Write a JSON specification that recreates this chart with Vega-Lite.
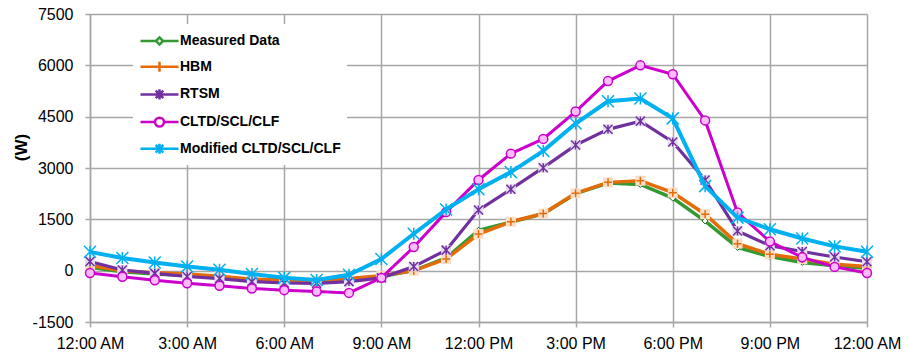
{
  "$schema": "https://vega.github.io/schema/vega-lite/v6.json",
  "width": 777,
  "height": 308,
  "autosize": "none",
  "padding": {"left": 90, "top": 14, "right": 42, "bottom": 34},
  "background": "white",
  "config": {
    "font": "Liberation Sans",
    "view": {"stroke": null},
    "axis": {
      "gridColor": "#A6A6A6",
      "gridWidth": 1.5,
      "gridOpacity": 1,
      "domainColor": "#A6A6A6",
      "domainWidth": 1.5,
      "tickColor": "#A6A6A6",
      "tickWidth": 1.5,
      "tickSize": 5,
      "labelColor": "black",
      "labelFontSize": 16,
      "labelFont": "Liberation Sans"
    }
  },
  "datasets": {
    "load": [
      {"hour": 0, "series": "Measured Data", "value": 100},
      {"hour": 1, "series": "Measured Data", "value": -30},
      {"hour": 2, "series": "Measured Data", "value": -100},
      {"hour": 3, "series": "Measured Data", "value": -140},
      {"hour": 4, "series": "Measured Data", "value": -190},
      {"hour": 5, "series": "Measured Data", "value": -260},
      {"hour": 6, "series": "Measured Data", "value": -300},
      {"hour": 7, "series": "Measured Data", "value": -340},
      {"hour": 8, "series": "Measured Data", "value": -260},
      {"hour": 9, "series": "Measured Data", "value": -170},
      {"hour": 10, "series": "Measured Data", "value": 0},
      {"hour": 11, "series": "Measured Data", "value": 370},
      {"hour": 12, "series": "Measured Data", "value": 1180},
      {"hour": 13, "series": "Measured Data", "value": 1420},
      {"hour": 14, "series": "Measured Data", "value": 1660},
      {"hour": 15, "series": "Measured Data", "value": 2250},
      {"hour": 16, "series": "Measured Data", "value": 2560},
      {"hour": 17, "series": "Measured Data", "value": 2520},
      {"hour": 18, "series": "Measured Data", "value": 2120},
      {"hour": 19, "series": "Measured Data", "value": 1450},
      {"hour": 20, "series": "Measured Data", "value": 680},
      {"hour": 21, "series": "Measured Data", "value": 410},
      {"hour": 22, "series": "Measured Data", "value": 240},
      {"hour": 23, "series": "Measured Data", "value": 140},
      {"hour": 24, "series": "Measured Data", "value": 70},
      {"hour": 0, "series": "HBM", "value": 150},
      {"hour": 1, "series": "HBM", "value": 0},
      {"hour": 2, "series": "HBM", "value": -60},
      {"hour": 3, "series": "HBM", "value": -100},
      {"hour": 4, "series": "HBM", "value": -160},
      {"hour": 5, "series": "HBM", "value": -250},
      {"hour": 6, "series": "HBM", "value": -270},
      {"hour": 7, "series": "HBM", "value": -300},
      {"hour": 8, "series": "HBM", "value": -230},
      {"hour": 9, "series": "HBM", "value": -150},
      {"hour": 10, "series": "HBM", "value": 0},
      {"hour": 11, "series": "HBM", "value": 340},
      {"hour": 12, "series": "HBM", "value": 1070},
      {"hour": 13, "series": "HBM", "value": 1430},
      {"hour": 14, "series": "HBM", "value": 1670},
      {"hour": 15, "series": "HBM", "value": 2260},
      {"hour": 16, "series": "HBM", "value": 2580},
      {"hour": 17, "series": "HBM", "value": 2630},
      {"hour": 18, "series": "HBM", "value": 2280},
      {"hour": 19, "series": "HBM", "value": 1650},
      {"hour": 20, "series": "HBM", "value": 790},
      {"hour": 21, "series": "HBM", "value": 480},
      {"hour": 22, "series": "HBM", "value": 340},
      {"hour": 23, "series": "HBM", "value": 190},
      {"hour": 24, "series": "HBM", "value": 120},
      {"hour": 0, "series": "RTSM", "value": 270},
      {"hour": 1, "series": "RTSM", "value": 20},
      {"hour": 2, "series": "RTSM", "value": -80},
      {"hour": 3, "series": "RTSM", "value": -170},
      {"hour": 4, "series": "RTSM", "value": -230},
      {"hour": 5, "series": "RTSM", "value": -320},
      {"hour": 6, "series": "RTSM", "value": -360},
      {"hour": 7, "series": "RTSM", "value": -370},
      {"hour": 8, "series": "RTSM", "value": -320},
      {"hour": 9, "series": "RTSM", "value": -210},
      {"hour": 10, "series": "RTSM", "value": 120},
      {"hour": 11, "series": "RTSM", "value": 600},
      {"hour": 12, "series": "RTSM", "value": 1770},
      {"hour": 13, "series": "RTSM", "value": 2380},
      {"hour": 14, "series": "RTSM", "value": 3010},
      {"hour": 15, "series": "RTSM", "value": 3670},
      {"hour": 16, "series": "RTSM", "value": 4130},
      {"hour": 17, "series": "RTSM", "value": 4370},
      {"hour": 18, "series": "RTSM", "value": 3760},
      {"hour": 19, "series": "RTSM", "value": 2650},
      {"hour": 20, "series": "RTSM", "value": 1160},
      {"hour": 21, "series": "RTSM", "value": 730},
      {"hour": 22, "series": "RTSM", "value": 560},
      {"hour": 23, "series": "RTSM", "value": 400},
      {"hour": 24, "series": "RTSM", "value": 260},
      {"hour": 0, "series": "CLTD/SCL/CLF", "value": -70},
      {"hour": 1, "series": "CLTD/SCL/CLF", "value": -180},
      {"hour": 2, "series": "CLTD/SCL/CLF", "value": -280},
      {"hour": 3, "series": "CLTD/SCL/CLF", "value": -370},
      {"hour": 4, "series": "CLTD/SCL/CLF", "value": -440},
      {"hour": 5, "series": "CLTD/SCL/CLF", "value": -520},
      {"hour": 6, "series": "CLTD/SCL/CLF", "value": -570},
      {"hour": 7, "series": "CLTD/SCL/CLF", "value": -610},
      {"hour": 8, "series": "CLTD/SCL/CLF", "value": -650},
      {"hour": 9, "series": "CLTD/SCL/CLF", "value": -210},
      {"hour": 10, "series": "CLTD/SCL/CLF", "value": 690},
      {"hour": 11, "series": "CLTD/SCL/CLF", "value": 1710},
      {"hour": 12, "series": "CLTD/SCL/CLF", "value": 2650},
      {"hour": 13, "series": "CLTD/SCL/CLF", "value": 3420},
      {"hour": 14, "series": "CLTD/SCL/CLF", "value": 3850},
      {"hour": 15, "series": "CLTD/SCL/CLF", "value": 4650},
      {"hour": 16, "series": "CLTD/SCL/CLF", "value": 5540},
      {"hour": 17, "series": "CLTD/SCL/CLF", "value": 6000},
      {"hour": 18, "series": "CLTD/SCL/CLF", "value": 5740},
      {"hour": 19, "series": "CLTD/SCL/CLF", "value": 4390},
      {"hour": 20, "series": "CLTD/SCL/CLF", "value": 1700},
      {"hour": 21, "series": "CLTD/SCL/CLF", "value": 850},
      {"hour": 22, "series": "CLTD/SCL/CLF", "value": 390},
      {"hour": 23, "series": "CLTD/SCL/CLF", "value": 110},
      {"hour": 24, "series": "CLTD/SCL/CLF", "value": -70},
      {"hour": 0, "series": "Modified CLTD/SCL/CLF", "value": 550},
      {"hour": 1, "series": "Modified CLTD/SCL/CLF", "value": 370},
      {"hour": 2, "series": "Modified CLTD/SCL/CLF", "value": 240},
      {"hour": 3, "series": "Modified CLTD/SCL/CLF", "value": 120},
      {"hour": 4, "series": "Modified CLTD/SCL/CLF", "value": 25},
      {"hour": 5, "series": "Modified CLTD/SCL/CLF", "value": -100},
      {"hour": 6, "series": "Modified CLTD/SCL/CLF", "value": -210},
      {"hour": 7, "series": "Modified CLTD/SCL/CLF", "value": -270},
      {"hour": 8, "series": "Modified CLTD/SCL/CLF", "value": -120},
      {"hour": 9, "series": "Modified CLTD/SCL/CLF", "value": 340},
      {"hour": 10, "series": "Modified CLTD/SCL/CLF", "value": 1080},
      {"hour": 11, "series": "Modified CLTD/SCL/CLF", "value": 1790},
      {"hour": 12, "series": "Modified CLTD/SCL/CLF", "value": 2380},
      {"hour": 13, "series": "Modified CLTD/SCL/CLF", "value": 2880},
      {"hour": 14, "series": "Modified CLTD/SCL/CLF", "value": 3500},
      {"hour": 15, "series": "Modified CLTD/SCL/CLF", "value": 4300},
      {"hour": 16, "series": "Modified CLTD/SCL/CLF", "value": 4950},
      {"hour": 17, "series": "Modified CLTD/SCL/CLF", "value": 5030},
      {"hour": 18, "series": "Modified CLTD/SCL/CLF", "value": 4450},
      {"hour": 19, "series": "Modified CLTD/SCL/CLF", "value": 2470},
      {"hour": 20, "series": "Modified CLTD/SCL/CLF", "value": 1550},
      {"hour": 21, "series": "Modified CLTD/SCL/CLF", "value": 1210},
      {"hour": 22, "series": "Modified CLTD/SCL/CLF", "value": 940},
      {"hour": 23, "series": "Modified CLTD/SCL/CLF", "value": 710},
      {"hour": 24, "series": "Modified CLTD/SCL/CLF", "value": 550}
    ]
  },
  "data": {"name": "load"},
  "encoding": {
    "x": {
      "field": "hour",
      "type": "quantitative",
      "scale": {"domain": [0, 24], "nice": false},
      "axis": {
        "title": null,
        "values": [0, 3, 6, 9, 12, 15, 18, 21, 24],
        "labelExpr": "(datum.value % 12 == 0 ? '12' : '' + (datum.value % 12)) + ':00 ' + (datum.value < 12 || datum.value == 24 ? 'AM' : 'PM')",
        "labelPadding": 8,
        "labelFlush": false,
        "grid": true
      }
    },
    "y": {
      "field": "value",
      "type": "quantitative",
      "scale": {"domain": [-1500, 7500], "nice": false},
      "axis": {
        "values": [-1500, 0, 1500, 3000, 4500, 6000, 7500],
        "format": "d",
        "labelExpr": "replace(datum.label, '\u2212', '-')",
        "labelPadding": 12,
        "grid": true,
        "title": "(W)",
        "titleFont": "Liberation Sans",
        "titleFontSize": 17,
        "titleFontWeight": "bold",
        "titleColor": "black",
        "titleX": -60,
        "titleY": 133,
        "titleBaseline": "bottom"
      }
    }
  },
  "layer": [
    {
      "mark": {"type": "point", "opacity": 0, "filled": false},
      "encoding": {
        "color": {
          "field": "series",
          "type": "nominal",
          "scale": {
            "domain": ["Measured Data", "HBM", "RTSM", "CLTD/SCL/CLF", "Modified CLTD/SCL/CLF"],
            "range": ["#339933", "#E36C09", "#7030A0", "#CC00CC", "#00B0F0"]
          },
          "legend": {
            "orient": "none",
            "legendX": 43,
            "legendY": 10,
            "title": null,
            "fillColor": "white",
            "padding": 6,
            "symbolSize": 361,
            "symbolStrokeWidth": 2.5,
            "symbolOpacity": 1,
            "labelFont": "Liberation Sans",
            "labelFontSize": 14,
            "labelFontWeight": "bold",
            "labelColor": "black",
            "labelLimit": 0,
            "labelOffset": 19,
            "rowPadding": 5.7
          }
        },
        "shape": {
          "field": "series",
          "type": "nominal",
          "scale": {
            "domain": ["Measured Data", "HBM", "RTSM", "CLTD/SCL/CLF", "Modified CLTD/SCL/CLF"],
            "range": [
              "M-1,0H0.63M1.37,0H3M1,-0.37L1.37,0L1,0.37L0.63,0Z",
              "M-1,0H3M1,-0.53V0.53",
              "M-1,0H3M0.6,-0.4L1.4,0.4M0.6,0.4L1.4,-0.4M1,-0.53V0.53",
              "M-1,0H0.53M1.47,0H3M1.47,0A0.47,0.47 0 1 1 0.53,0A0.47,0.47 0 1 1 1.47,0Z",
              "M-1,0H3M0.6,-0.4L1.4,0.4M0.6,0.4L1.4,-0.4M1,-0.53V0.53"
            ]
          }
        }
      }
    },
    {
      "transform": [{"filter": "datum.series == 'Measured Data'"}],
      "mark": {"type": "line", "color": "#339933", "strokeWidth": 3.5},
      "encoding": {}
    },
    {
      "transform": [{"filter": "datum.series == 'Measured Data'"}],
      "mark": {"type": "point", "shape": "diamond", "size": 36, "filled": true, "fill": "white", "stroke": "#1F6B1F", "strokeWidth": 1, "opacity": 1}
    },
    {
      "transform": [{"filter": "datum.series == 'HBM'"}],
      "mark": {"type": "line", "color": "#E36C09", "strokeWidth": 3.5},
      "encoding": {}
    },
    {
      "transform": [{"filter": "datum.series == 'HBM'"}],
      "mark": {"type": "point", "shape": "square", "size": 100, "filled": true, "fill": "#FCDDC5", "strokeWidth": 0, "opacity": 1}
    },
    {
      "transform": [{"filter": "datum.series == 'HBM'"}],
      "mark": {"type": "point", "shape": "M-1,0H1M0,-1V1", "size": 64, "filled": false, "stroke": "#E36C09", "strokeWidth": 1.5, "opacity": 1}
    },
    {
      "transform": [{"filter": "datum.series == 'RTSM'"}],
      "mark": {"type": "line", "color": "#7030A0", "strokeWidth": 3.2},
      "encoding": {}
    },
    {
      "transform": [{"filter": "datum.series == 'RTSM'"}],
      "mark": {"type": "point", "shape": "square", "size": 100, "filled": true, "fill": "#E6DCF0", "strokeWidth": 0, "opacity": 1}
    },
    {
      "transform": [{"filter": "datum.series == 'RTSM'"}],
      "mark": {"type": "point", "shape": "M-1,-1L1,1M-1,1L1,-1M0,-1V1", "size": 81, "filled": false, "stroke": "#7030A0", "strokeWidth": 1.5, "opacity": 1}
    },
    {
      "transform": [{"filter": "datum.series == 'CLTD/SCL/CLF'"}],
      "mark": {"type": "line", "color": "#CC00CC", "strokeWidth": 3},
      "encoding": {}
    },
    {
      "transform": [{"filter": "datum.series == 'CLTD/SCL/CLF'"}],
      "mark": {"type": "point", "shape": "circle", "size": 80, "filled": true, "fill": "#FFBBFF", "stroke": "#CC00CC", "strokeWidth": 1.5, "opacity": 1}
    },
    {
      "transform": [{"filter": "datum.series == 'Modified CLTD/SCL/CLF'"}],
      "mark": {"type": "line", "color": "#00B0F0", "strokeWidth": 4},
      "encoding": {}
    },
    {
      "transform": [{"filter": "datum.series == 'Modified CLTD/SCL/CLF'"}],
      "mark": {"type": "point", "shape": "M-1,-1L1,1M-1,1L1,-1M0,-1V1", "size": 144, "filled": false, "stroke": "#00B0F0", "strokeWidth": 1.5, "opacity": 1}
    }
  ]
}
